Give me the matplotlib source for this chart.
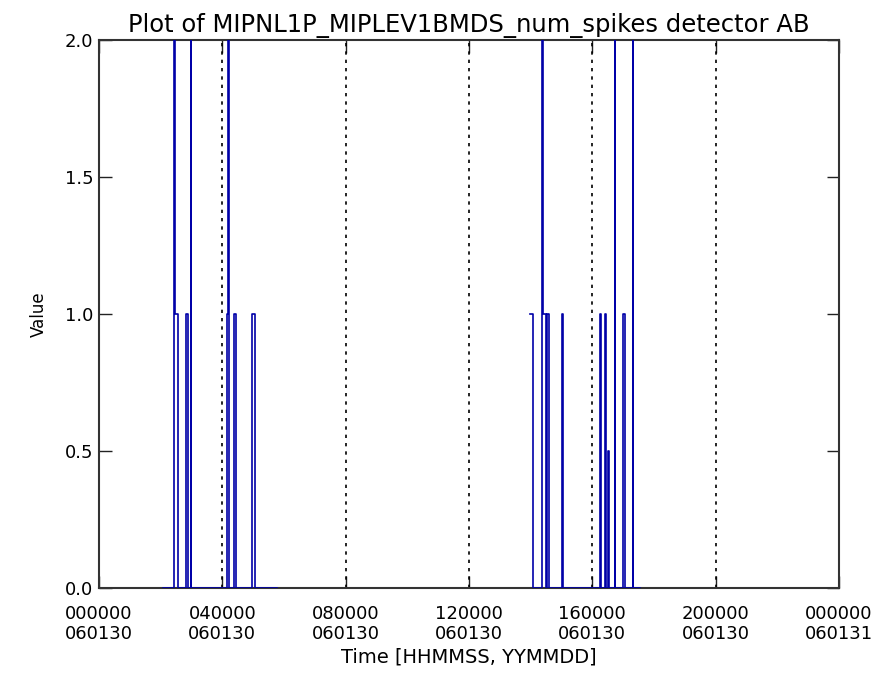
import numpy as np
import matplotlib
matplotlib.use("Agg")
import matplotlib.pyplot as plt

# Time in hours since 2006-01-30 00:00, values of num_spikes (step data, NaN = gap)
t_hours = [2.08, 2.44, 2.46, 2.56, 2.83, 2.88, 2.97, 2.99, 4.15, 4.19, 4.22,
           4.39, 4.44, 4.97, 5.06, 5.77, 5.78,
           13.98, 14.08, 14.36, 14.41, 14.50, 14.52, 14.58, 15.00, 15.04,
           16.24, 16.28, 16.40, 16.44, 16.50, 16.53, 16.72, 16.74,
           17.00, 17.06, 17.31, 17.33, 17.55]
values = [0, 3, 1, 0, 1, 0, 3, 0, 1, 3, 0,
          1, 0, 1, 0, 0, np.nan,
          1, 0, 3, 1, 0, 1, 0, 1, 0,
          1, 0, 1, 0, 0.5, 0, 3, 0,
          1, 0, 3, 0, 0]

grid_hours = [4, 8, 12, 16, 20]
xtick_hours = [0, 4, 8, 12, 16, 20, 24]
xtick_labels = ["000000\n060130", "040000\n060130", "080000\n060130",
                "120000\n060130", "160000\n060130", "200000\n060130",
                "000000\n060131"]
yticks = [0.0, 0.5, 1.0, 1.5, 2.0]
ytick_labels = ["0.0", "0.5", "1.0", "1.5", "2.0"]

fig = plt.figure(figsize=(8.89, 6.87), dpi=100)
ax = fig.add_axes([99/889, 1-588/687, 740/889, 548/687])

for g in grid_hours:
    ax.axvline(g, color="black", linestyle=(0, (2, 3)), linewidth=1.2)

ax.plot(t_hours, values, drawstyle="steps-post", color="#0000a8",
        linewidth=1.2, zorder=3)

ax.set_xlim(0, 24)
ax.set_ylim(0, 2.0)
ax.set_xticks(xtick_hours)
ax.set_xticklabels(xtick_labels)
ax.set_yticks(yticks)
ax.set_yticklabels(ytick_labels)
ax.tick_params(direction="in", length=9, width=1, top=True, right=True,
               labelsize=13, color="#222222")
ax.tick_params(axis="x", pad=12)
ax.tick_params(axis="y", pad=4)
for s in ax.spines.values():
    s.set_linewidth(1.5)
    s.set_color("#333333")

ax.set_title("Plot of MIPNL1P_MIPLEV1BMDS_num_spikes detector AB", fontsize=17.5, pad=6)
ax.set_xlabel("Time [HHMMSS, YYMMDD]", fontsize=14, labelpad=3)
ax.set_ylabel("Value", fontsize=12, labelpad=12)

fig.savefig("out.png", dpi=100)
